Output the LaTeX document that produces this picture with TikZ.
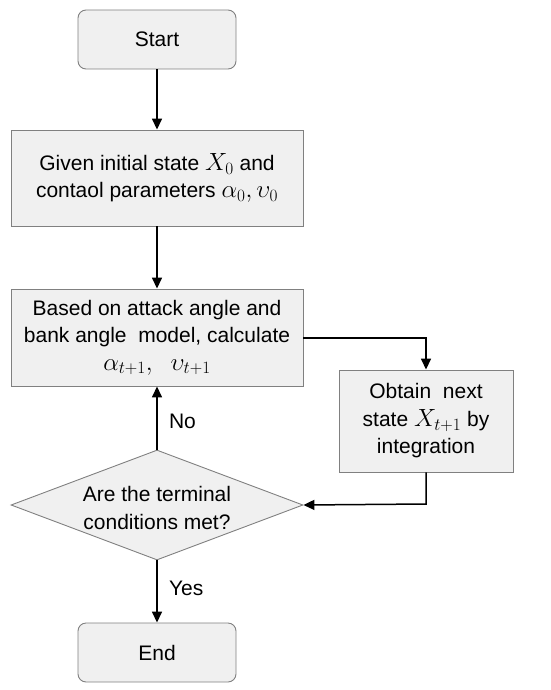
\documentclass[tikz,border=0pt]{standalone}
\usepackage{fontspec}
\setmainfont{Liberation Sans}
\usetikzlibrary{arrows.meta,shapes.geometric}
\newcommand\mm[1]{{\fontsize{25}{27}\selectfont$#1$}}
\begin{document}
\begin{tikzpicture}[x=1pt,y=-1pt,
  box/.style={draw=black!50, fill=black!6, line width=0.9pt, align=center, font=\fontsize{21}{27.5}\selectfont, inner sep=0pt},
  term/.style={box, rounded corners=8pt},
  lbl/.style={font=\fontsize{21}{27.5}\selectfont, anchor=west},
  arr/.style={line width=1.5pt, -{Triangle[length=11pt,width=10pt]}},
  ln/.style={line width=1.5pt}]
\useasboundingbox (0,0) rectangle (550,690);
\node[term, minimum width=158pt, minimum height=59pt] (start) at (157,39.5) {Start};
\node[box, minimum width=292pt, minimum height=96pt] (given) at (157,178) {Given initial state \mm{X_0} and\\contaol parameters \mm{\alpha_0,\upsilon_0}};
\node[box, minimum width=292pt, minimum height=97pt] (based) at (157,337.5) {Based on attack angle and\\bank angle~ model, calculate\\\mm{\alpha_{t+1},\ \ \upsilon_{t+1}}};
\node[box, minimum width=174pt, minimum height=102pt] (obtain) at (426,421) {Obtain~ next\\state \mm{X_{t+1}} by\\integration};
\node[diamond, box, minimum width=292pt, minimum height=110pt, aspect=2.65] (dec) at (157,505) {};
\node[font=\fontsize{21}{27.5}\selectfont, align=center] (dect) at (157,508) {Are the terminal\\conditions met?};
\node[term, minimum width=158pt, minimum height=59pt] (end) at (157,652.5) {End};
\draw[arr] (start) -- (given);
\draw[arr] (given) -- (based);
\coordinate (bj) at (426,338);
\draw[arr] (based.east |- bj) -- (bj) -- (obtain.north);
\coordinate (oj) at (426,504);
\draw[arr] (obtain.south) -- (oj) -- (dec.east);
\draw[arr] (dec.north) -- node[lbl, pos=0.45, xshift=8pt] {No} (based.south);
\draw[arr] (dec.south) -- node[lbl, pos=0.45, xshift=8pt] {Yes} (end.north);
\end{tikzpicture}
\end{document}
